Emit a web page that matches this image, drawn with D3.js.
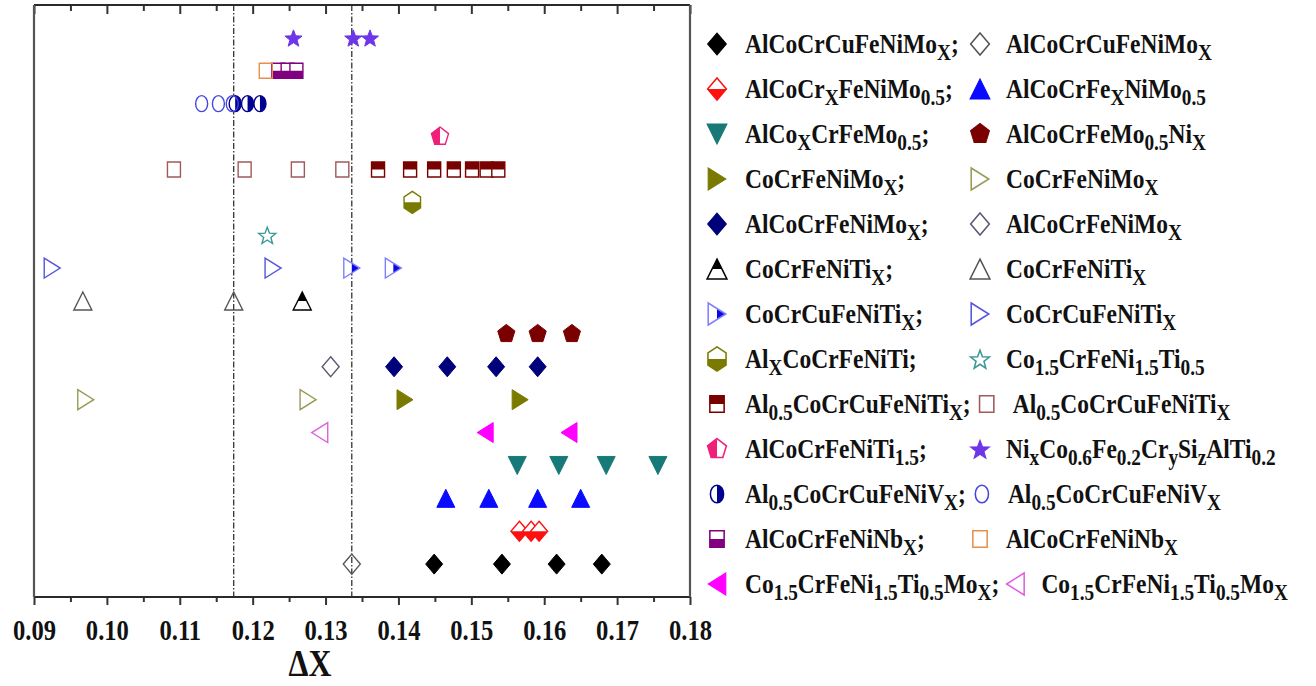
<!DOCTYPE html>
<html>
<head>
<meta charset="utf-8">
<script src="https://cdn.jsdelivr.net/npm/d3@7"></script>
<style>
  body { margin: 0; background: #fff; }
  svg { display: block; }
</style>
</head>
<body>
<svg id="chart" width="1316" height="686"></svg>
<script>
// ΔX (electronegativity difference) of high-entropy alloy series, one row per series
const rows = [
  "NiCoFeCrSiAlTi", "AlCoCrFeNiNb", "Al05CoCrCuFeNiV", "AlCoCrFeNiTi15",
  "Al05CoCrCuFeNiTi", "AlxCoCrFeNiTi", "Co15CrFeNi15Ti05", "CoCrCuFeNiTi",
  "CoCrFeNiTi", "AlCoCrFeMo05Ni", "AlCoCrFeNiMo", "CoCrFeNiMo",
  "Co15CrFeNi15Ti05Mo", "AlCoxCrFeMo05", "AlCoCrFexNiMo05", "AlCoCrxFeNiMo05",
  "AlCoCrCuFeNiMo"
];

const niCoFeCrSiAlTi      = [0.1256, 0.1338, 0.1361];
const alCoCrFeNiNbA       = [0.1235, 0.1248, 0.1260];
const alCoCrFeNiNbB       = [0.1218];
const al05CoCrCuFeNiVA    = [0.1176, 0.1193, 0.1210];
const al05CoCrCuFeNiVB    = [0.1130, 0.1153, 0.1172];
const alCoCrFeNiTi15      = [0.1457];
const al05CoCrCuFeNiTiA   = [0.1372, 0.1416, 0.1449, 0.1476, 0.1501, 0.1521, 0.1537];
const al05CoCrCuFeNiTiB   = [0.1092, 0.1189, 0.1262, 0.1323];
const alxCoCrFeNiTi       = [0.1419];
const co15CrFeNi15Ti05    = [0.1220];
const coCrCuFeNiTiA       = [0.1336, 0.1393];
const coCrCuFeNiTiB       = [0.0925, 0.1228];
const coCrFeNiTiA         = [0.1268];
const coCrFeNiTiB         = [0.0967, 0.1174];
const alCoCrFeMo05Ni      = [0.1548, 0.1591, 0.1638];
const alCoCrFeNiMoA       = [0.1394, 0.1467, 0.1534, 0.1591];
const alCoCrFeNiMoB       = [0.1307];
const coCrFeNiMoA         = [0.1409, 0.1567];
const coCrFeNiMoB         = [0.0971, 0.1276];
const co15CrFeNi15Ti05MoA = [0.1519, 0.1634];
const co15CrFeNi15Ti05MoB = [0.1292];
const alCoxCrFeMo05       = [0.1563, 0.1620, 0.1685, 0.1756];
const alCoCrFexNiMo05     = [0.1465, 0.1524, 0.1591, 0.1650];
const alCoCrxFeNiMo05     = [0.1566, 0.1582, 0.1593];
const alCoCrCuFeNiMoA     = [0.1449, 0.1542, 0.1617, 0.1679];
const alCoCrCuFeNiMoB     = [0.1336];

const guideValues = [0.1174, 0.1336];
const majorTicks = [0.09, 0.10, 0.11, 0.12, 0.13, 0.14, 0.15, 0.16, 0.17, 0.18];
const minorTicks = [0.095, 0.105, 0.115, 0.125, 0.135, 0.145, 0.155, 0.165, 0.175];
const axisTitle = "ΔX";

// series: marker style for each value array
const series = {
  cuMoA:  { row: "AlCoCrCuFeNiMo", values: alCoCrCuFeNiMoA, shape: "diamond", fill: "full", color: "#000000" },
  cuMoB:  { row: "AlCoCrCuFeNiMo", values: alCoCrCuFeNiMoB, shape: "diamond", fill: "open", color: "#555555" },
  crx:    { row: "AlCoCrxFeNiMo05", values: alCoCrxFeNiMo05, shape: "diamond", fill: "bottom", color: "#ff1010" },
  fex:    { row: "AlCoCrFexNiMo05", values: alCoCrFexNiMo05, shape: "triUp", fill: "full", color: "#0a0aff" },
  cox:    { row: "AlCoxCrFeMo05", values: alCoxCrFeMo05, shape: "triDown", fill: "full", color: "#177a78" },
  nix:    { row: "AlCoCrFeMo05Ni", values: alCoCrFeMo05Ni, shape: "pentagon", fill: "full", color: "#7a0000" },
  moA:    { row: "CoCrFeNiMo", values: coCrFeNiMoA, shape: "triRight", fill: "full", color: "#7a7a00" },
  moB:    { row: "CoCrFeNiMo", values: coCrFeNiMoB, shape: "triRight", fill: "open", color: "#9a9a55" },
  alMoA:  { row: "AlCoCrFeNiMo", values: alCoCrFeNiMoA, shape: "diamond", fill: "full", color: "#00007a" },
  alMoB:  { row: "AlCoCrFeNiMo", values: alCoCrFeNiMoB, shape: "diamond", fill: "open", color: "#5a5a70" },
  tiA:    { row: "CoCrFeNiTi", values: coCrFeNiTiA, shape: "triUp", fill: "top", color: "#000000" },
  tiB:    { row: "CoCrFeNiTi", values: coCrFeNiTiB, shape: "triUp", fill: "open", color: "#555555" },
  cuTiA:  { row: "CoCrCuFeNiTi", values: coCrCuFeNiTiA, shape: "triRight", fill: "right", color: "#0a0ae0", edge: "#8080ff" },
  cuTiB:  { row: "CoCrCuFeNiTi", values: coCrCuFeNiTiB, shape: "triRight", fill: "open", color: "#5555e0" },
  alxTi:  { row: "AlxCoCrFeNiTi", values: alxCoCrFeNiTi, shape: "hexagon", fill: "bottom", color: "#7a7a00" },
  coStar: { row: "Co15CrFeNi15Ti05", values: co15CrFeNi15Ti05, shape: "star", fill: "open", color: "#3a9898" },
  al5TiA: { row: "Al05CoCrCuFeNiTi", values: al05CoCrCuFeNiTiA, shape: "square", fill: "top", color: "#7a0000" },
  al5TiB: { row: "Al05CoCrCuFeNiTi", values: al05CoCrCuFeNiTiB, shape: "square", fill: "open", color: "#a05a5a" },
  ti15:   { row: "AlCoCrFeNiTi15", values: alCoCrFeNiTi15, shape: "pentagon", fill: "left", color: "#f0207a" },
  niStar: { row: "NiCoFeCrSiAlTi", values: niCoFeCrSiAlTi, shape: "star", fill: "full", color: "#6f35e8" },
  vA:     { row: "Al05CoCrCuFeNiV", values: al05CoCrCuFeNiVA, shape: "circle", fill: "right", color: "#000090" },
  vB:     { row: "Al05CoCrCuFeNiV", values: al05CoCrCuFeNiVB, shape: "circle", fill: "open", color: "#4545e0" },
  nbA:    { row: "AlCoCrFeNiNb", values: alCoCrFeNiNbA, shape: "square", fill: "bottom", color: "#800080" },
  nbB:    { row: "AlCoCrFeNiNb", values: alCoCrFeNiNbB, shape: "square", fill: "open", color: "#e8904a" },
  tiMoA:  { row: "Co15CrFeNi15Ti05Mo", values: co15CrFeNi15Ti05MoA, shape: "triLeft", fill: "full", color: "#ff00ff" },
  tiMoB:  { row: "Co15CrFeNi15Ti05Mo", values: co15CrFeNi15Ti05MoB, shape: "triLeft", fill: "open", color: "#e060e0" }
};

// legend rows: [left series, left label, right series, right label]; _{..} marks a subscript
const legendRows = [
  ["cuMoA", "AlCoCrCuFeNiMo_{X};", "cuMoB", "AlCoCrCuFeNiMo_{X}"],
  ["crx", "AlCoCr_{X}FeNiMo_{0.5};", "fex", "AlCoCrFe_{X}NiMo_{0.5}"],
  ["cox", "AlCo_{X}CrFeMo_{0.5};", "nix", "AlCoCrFeMo_{0.5}Ni_{X}"],
  ["moA", "CoCrFeNiMo_{X};", "moB", "CoCrFeNiMo_{X}"],
  ["alMoA", "AlCoCrFeNiMo_{X};", "alMoB", "AlCoCrFeNiMo_{X}"],
  ["tiA", "CoCrFeNiTi_{X};", "tiB", "CoCrFeNiTi_{X}"],
  ["cuTiA", "CoCrCuFeNiTi_{X};", "cuTiB", "CoCrCuFeNiTi_{X}"],
  ["alxTi", "Al_{X}CoCrFeNiTi;", "coStar", "Co_{1.5}CrFeNi_{1.5}Ti_{0.5}"],
  ["al5TiA", "Al_{0.5}CoCrCuFeNiTi_{X};", "al5TiB", "Al_{0.5}CoCrCuFeNiTi_{X}"],
  ["ti15", "AlCoCrFeNiTi_{1.5};", "niStar", "Ni_{x}Co_{0.6}Fe_{0.2}Cr_{y}Si_{z}AlTi_{0.2}"],
  ["vA", "Al_{0.5}CoCrCuFeNiV_{X};", "vB", "Al_{0.5}CoCrCuFeNiV_{X}"],
  ["nbA", "AlCoCrFeNiNb_{X};", "nbB", "AlCoCrFeNiNb_{X}"],
  ["tiMoA", "Co_{1.5}CrFeNi_{1.5}Ti_{0.5}Mo_{X};", "tiMoB", "Co_{1.5}CrFeNi_{1.5}Ti_{0.5}Mo_{X}"]
];

// ---- layout ----
const plot = { left: 34, right: 690, top: 5, bottom: 597 };
const svg = d3.select("#chart");
const FONT = "'Liberation Serif', 'Times New Roman', serif";

const x = d3.scaleLinear().domain([0.09, 0.18]).range([plot.left, plot.right]);
const y = d3.scalePoint().domain(rows).range([plot.top, plot.bottom]).padding(1);

// marker half-extents per shape
const halfSize = {
  diamond: [8.5, 10], triUp: [9, 9], triDown: [9, 9], triRight: [8, 10], triLeft: [8, 10],
  square: [6.5, 7.5], circle: [6, 8], pentagon: [9, 9.5], hexagon: [9.5, 11], star: [9, 9]
};

function polygon(n, w, h, rot) {
  const pts = d3.range(n).map(i => {
    const a = (rot + i * 360 / n) * Math.PI / 180;
    return [w * Math.cos(a), h * Math.sin(a)];
  });
  return "M" + pts.map(p => p[0].toFixed(2) + "," + p[1].toFixed(2)).join("L") + "Z";
}
function starPath(w, h) {
  const pts = d3.range(10).map(i => {
    const a = (-90 + i * 36) * Math.PI / 180;
    const k = i % 2 ? 0.42 : 1;
    return [w * k * Math.cos(a), h * k * Math.sin(a) + 1];
  });
  return "M" + pts.map(p => p[0].toFixed(2) + "," + p[1].toFixed(2)).join("L") + "Z";
}
function shapePath(shape) {
  const [w, h] = halfSize[shape];
  switch (shape) {
    case "diamond": return `M0,${-h}L${w},0L0,${h}L${-w},0Z`;
    case "triUp": return `M0,${-h}L${w},${h}L${-w},${h}Z`;
    case "triDown": return `M${-w},${-h}L${w},${-h}L0,${h}Z`;
    case "triRight": return `M${-w},${-h}L${w},0L${-w},${h}Z`;
    case "triLeft": return `M${w},${-h}L${-w},0L${w},${h}Z`;
    case "square": return `M${-w},${-h}H${w}V${h}H${-w}Z`;
    case "circle": return `M${-w},0A${w},${h} 0 1,0 ${w},0A${w},${h} 0 1,0 ${-w},0Z`;
    case "pentagon": return polygon(5, w, h, -90);
    case "hexagon": return polygon(6, w, h, -90);
    case "star": return starPath(w, h);
  }
}

// half-fill clip regions, in marker-local coordinates
const defs = svg.append("defs");
const clips = { top: [-30, -30, 60, 30], bottom: [-30, 0, 60, 30], left: [-30, -30, 30, 60], right: [0, -30, 30, 60] };
Object.entries(clips).forEach(([k, r]) => {
  defs.append("clipPath").attr("id", "half-" + k)
    .append("rect").attr("x", r[0]).attr("y", r[1]).attr("width", r[2]).attr("height", r[3]);
});

function drawMarker(g, s) {
  const d = shapePath(s.shape);
  const edge = s.edge || s.color;
  if (s.fill === "full") {
    g.append("path").attr("d", d).attr("fill", s.color).attr("stroke", s.color).attr("stroke-width", 1);
  } else if (s.fill === "open") {
    g.append("path").attr("d", d).attr("fill", "none").attr("stroke", s.color).attr("stroke-width", 1.4);
  } else {
    g.append("path").attr("d", d).attr("fill", "#fff");
    g.append("path").attr("d", d).attr("fill", s.color).attr("clip-path", `url(#half-${s.fill})`);
    g.append("path").attr("d", d).attr("fill", "none").attr("stroke", edge).attr("stroke-width", 1.4);
  }
}

// ---- frame, ticks, guide lines ----
svg.append("g").selectAll("line").data(guideValues).join("line")
  .attr("x1", d => x(d)).attr("x2", d => x(d))
  .attr("y1", plot.top).attr("y2", plot.bottom)
  .attr("stroke", "#222").attr("stroke-width", 1.2)
  .attr("stroke-dasharray", "6,2,1.5,2");

const bottomAxis = svg.append("g").attr("transform", `translate(0,${plot.bottom})`)
  .call(d3.axisBottom(x).tickValues(majorTicks).tickSize(8).tickFormat(d3.format(".2f")));
bottomAxis.select(".domain").remove();
bottomAxis.selectAll("line").attr("stroke", "#333").attr("stroke-width", 2);
bottomAxis.selectAll("text")
  .attr("y", 0).attr("dy", 0)
  .attr("transform", "translate(0,43) scale(0.82,1)")
  .attr("font-family", FONT).attr("font-weight", "bold").attr("font-size", 30).attr("fill", "#111");

const bottomMinor = svg.append("g").attr("transform", `translate(0,${plot.bottom})`)
  .call(d3.axisBottom(x).tickValues(minorTicks).tickSize(5).tickFormat(""));
bottomMinor.select(".domain").remove();
bottomMinor.selectAll("line").attr("stroke", "#333").attr("stroke-width", 2);

const topAxis = svg.append("g").attr("transform", `translate(0,${plot.top})`)
  .call(d3.axisTop(x).tickValues(majorTicks).tickSize(-9).tickFormat(""));
topAxis.select(".domain").remove();
topAxis.selectAll("line").attr("stroke", "#333").attr("stroke-width", 2);
const topMinor = svg.append("g").attr("transform", `translate(0,${plot.top})`)
  .call(d3.axisTop(x).tickValues(minorTicks).tickSize(-6).tickFormat(""));
topMinor.select(".domain").remove();
topMinor.selectAll("line").attr("stroke", "#333").attr("stroke-width", 2);

// plot frame: darker top/bottom, greyer sides
svg.append("line").attr("x1", plot.left).attr("x2", plot.right).attr("y1", plot.top).attr("y2", plot.top)
  .attr("stroke", "#2a2a2a").attr("stroke-width", 2.2);
svg.append("line").attr("x1", plot.left).attr("x2", plot.right).attr("y1", plot.bottom).attr("y2", plot.bottom)
  .attr("stroke", "#2a2a2a").attr("stroke-width", 2.2);
svg.append("line").attr("x1", plot.left).attr("x2", plot.left).attr("y1", plot.top).attr("y2", plot.bottom)
  .attr("stroke", "#555").attr("stroke-width", 2.2);
svg.append("line").attr("x1", plot.right).attr("x2", plot.right).attr("y1", plot.top).attr("y2", plot.bottom)
  .attr("stroke", "#555").attr("stroke-width", 2.2);

svg.append("text")
  .attr("transform", "translate(310,676) scale(0.86,1)")
  .attr("text-anchor", "middle")
  .attr("font-family", FONT).attr("font-weight", "bold").attr("font-size", 37).attr("fill", "#111")
  .text(axisTitle);

// ---- data markers ----
const markLayer = svg.append("g");
Object.values(series).forEach(s => {
  s.values.forEach(v => {
    const g = markLayer.append("g").attr("transform", `translate(${x(v)},${y(s.row)})`);
    drawMarker(g, s);
  });
});

// ---- legend ----
const legend = svg.append("g");
const TEXT_SCALE = 0.84;

function writeLabel(g, label, tx, ty) {
  const t = g.append("text")
    .attr("transform", `translate(${tx},${ty}) scale(${TEXT_SCALE},1)`)
    .attr("font-family", FONT).attr("font-weight", "bold").attr("font-size", 28).attr("fill", "#111");
  const parts = label.split(/(_\{[^}]*\})/).filter(p => p.length);
  let shifted = false;
  parts.forEach(p => {
    if (p.startsWith("_{")) {
      t.append("tspan").attr("font-size", 23).attr("dy", shifted ? 0 : 7).text(p.slice(2, -1));
      shifted = true;
    } else {
      t.append("tspan").attr("dy", shifted ? -7 : 0).text(p);
      shifted = false;
    }
  });
  return t.node().getComputedTextLength() * TEXT_SCALE;
}

legendRows.forEach((r, i) => {
  const ry = 44 + i * 45;
  const g = legend.append("g");
  drawMarker(g.append("g").attr("transform", `translate(717,${ry}) scale(1.1)`), series[r[0]]);
  const leftEnd = 745 + writeLabel(g, r[1], 745, ry + 9);
  const mx = Math.max(980, leftEnd + 16);
  drawMarker(g.append("g").attr("transform", `translate(${mx},${ry}) scale(1.1)`), series[r[2]]);
  writeLabel(g, r[3], mx + 26, ry + 9);
});
</script>
</body>
</html>
